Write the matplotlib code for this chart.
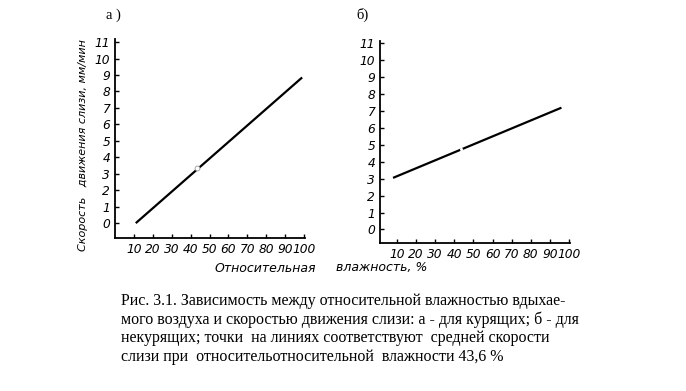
import matplotlib
matplotlib.use("Agg")
import matplotlib.pyplot as plt

# Data
humidity_a = [11, 99]
speed_a = [0.0, 8.85]
point_a = (43.6, 3.35)

humidity_b = [8, 96]
speed_b = [3.05, 7.2]
point_b = (43.6, 4.75)

y_ticks = list(range(0, 12))
x_ticks = list(range(10, 101, 10))

caption = ("Рис. 3.1. Зависимость между относительной влажностью вдыхае-\n"
           "мого воздуха и скоростью движения слизи: а - для курящих; б - для\n"
           "некурящих; точки  на линиях соответствуют  средней скорости\n"
           "слизи при  относительотносительной  влажности 43,6 %")

fig = plt.figure(figsize=(6.86, 3.91), dpi=100)
fig.patch.set_facecolor("white")

tickfont = dict(family="DejaVu Sans", style="italic", size=8.8)

def style_axes(ax, xlim, ylim):
    ax.set_xlim(*xlim)
    ax.set_ylim(*ylim)
    for s in ("top", "right"):
        ax.spines[s].set_visible(False)
    for s in ("left", "bottom"):
        ax.spines[s].set_linewidth(1.3)
        ax.spines[s].set_color("black")
    ax.set_xticks(x_ticks)
    ax.set_yticks(y_ticks)
    ax.set_xticklabels([str(v) for v in x_ticks], fontdict=tickfont)
    ax.set_yticklabels([str(v) for v in y_ticks], fontdict=tickfont)
    ax.tick_params(direction="in", length=3, width=1, pad=3.5, colors="black")
    ax.patch.set_alpha(0)

ax_a = fig.add_axes([0.1676, 0.391, 0.277, 0.509])
ax_a.plot(humidity_a, speed_a, color="black", lw=1.6, solid_capstyle="butt")
ax_a.plot([point_a[0]], [point_a[1]], marker="o", ms=3.5, mfc="white", mec="#999999", mew=0.6)
style_axes(ax_a, (0, 100.5), (-0.91, 11.18))

ax_b = fig.add_axes([0.554, 0.379, 0.277, 0.516])
ax_b.plot(humidity_b, speed_b, color="black", lw=1.6, solid_capstyle="butt")
ax_b.plot([point_b[0]], [point_b[1]], marker="o", ms=2.2, mfc="white", mec="white", mew=0)
style_axes(ax_b, (1.2, 100.5), (-0.79, 11.14))

# Titles
fig.text(113 / 686, 1 - 15 / 391, "а )", family="Liberation Serif", size=10.5, va="center", ha="center")
fig.text(362 / 686, 1 - 15 / 391, "б)", family="Liberation Serif", size=10.5, va="center", ha="center")

# Axis labels
fig.text(83 / 686, 1 - 145 / 391, "Скорость   движения слизи, мм/мин", rotation=90,
         family="DejaVu Sans", style="italic", size=8, va="center", ha="center")
fig.text(265 / 686, 1 - 268 / 391, "Относительная", family="DejaVu Sans", style="italic",
         size=9, va="center", ha="center")
fig.text(382 / 686, 1 - 268 / 391, "влажность, %", family="DejaVu Sans", style="italic",
         size=9, va="center", ha="center")

# Caption
fig.text(121 / 686, 1 - 293 / 391, caption, family="Liberation Serif", size=11.5,
         va="top", ha="left", linespacing=1.2)

fig.savefig("out.png", dpi=100, facecolor="white")
